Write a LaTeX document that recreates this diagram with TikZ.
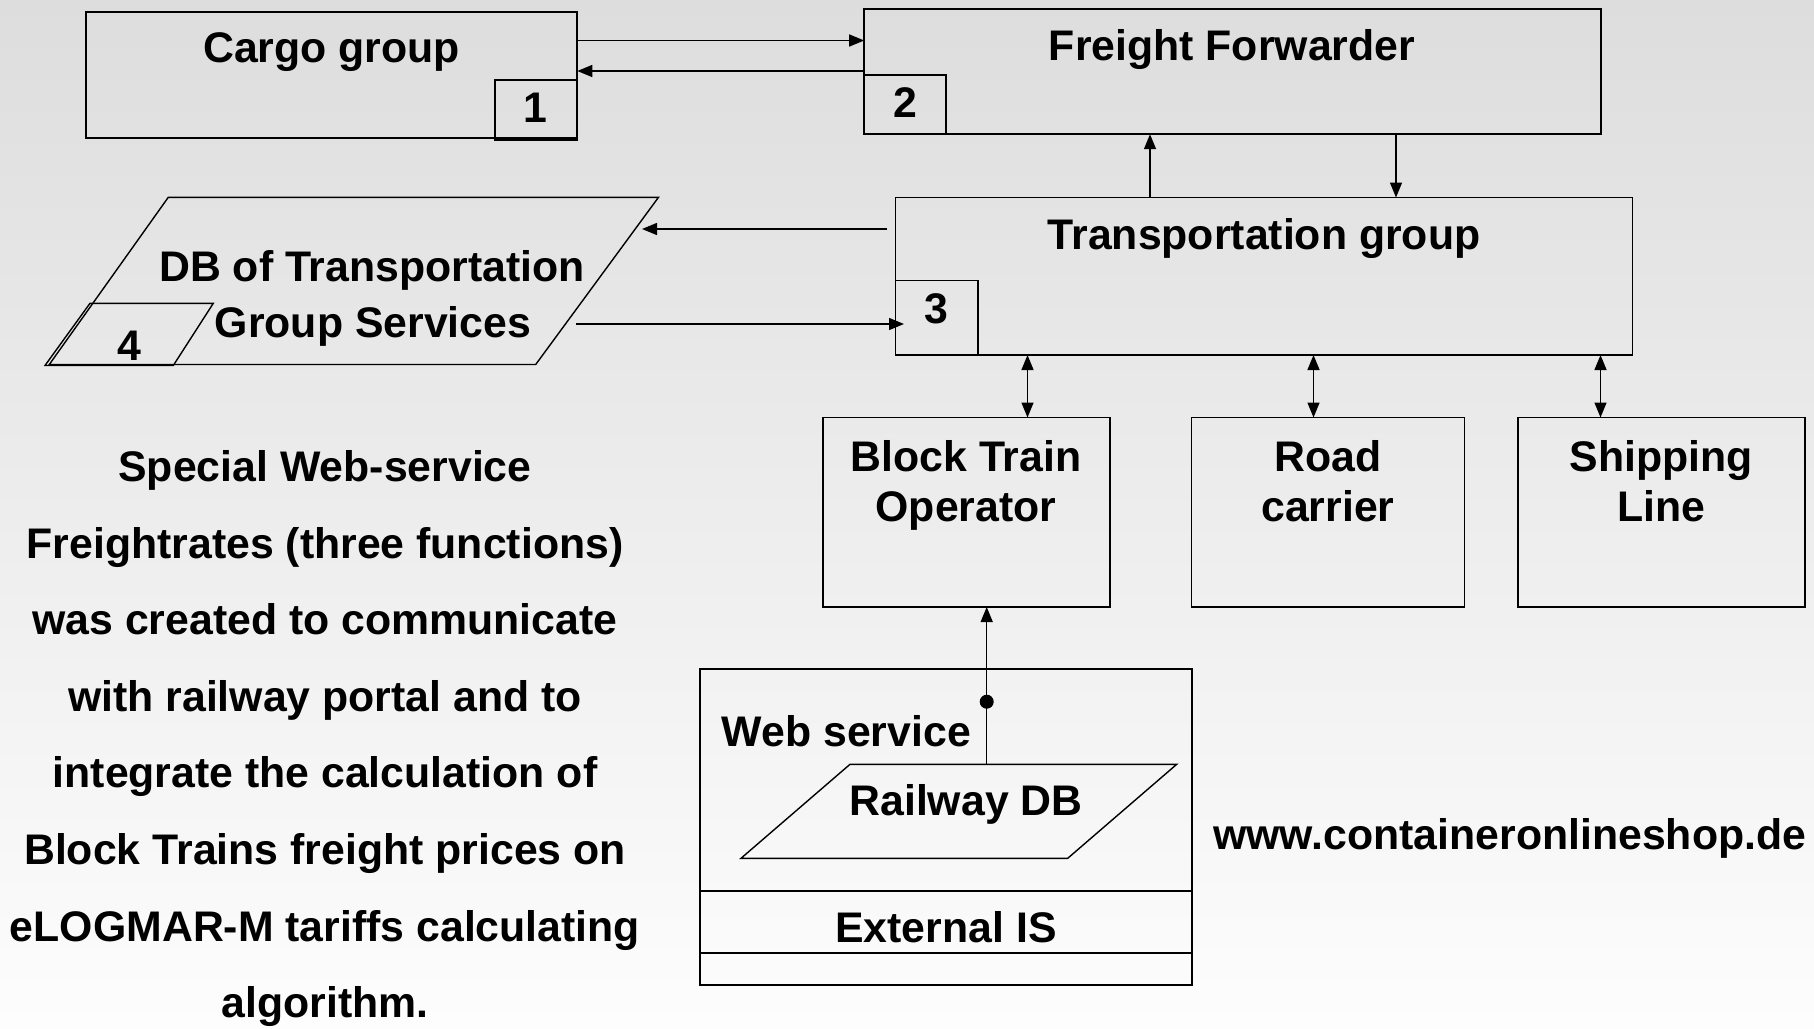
\documentclass[tikz,border=0pt]{standalone}
\usepackage{fontspec}
\setmainfont{Liberation Sans}
\usetikzlibrary{arrows.meta}
\begin{document}
\begin{tikzpicture}[x=1pt,y=-1pt,
  boxst/.style={draw=black, line width=1.8pt, inner sep=0pt, outer sep=0pt, anchor=north west},
  txt/.style={font=\fontsize{42.8}{50}\selectfont\bfseries, inner sep=0pt, anchor=base},
  conn/.style={line width=1.4pt, -{Triangle[length=15pt,width=12pt]}},
  dconn/.style={line width=1.4pt, {Triangle[length=15pt,width=12pt]}-{Triangle[length=15pt,width=12pt]}},
  para/.style={line width=1.4pt, line join=miter}]
\useasboundingbox (0,0) rectangle (1814,1028);
\shade[top color={rgb,255:red,221;green,221;blue,221}, bottom color={rgb,255:red,253;green,253;blue,253}] (0,0) rectangle (1814,1028);

% boxes
\node[boxst, minimum width=491.7pt, minimum height=126.1pt] (cargo) at (85.6,11.6) {};
\node[boxst, minimum width=81.8pt, minimum height=60pt] (box1) at (495.2,80) {};
\node[boxst, minimum width=737pt, minimum height=124.9pt] (ff) at (864.2,9.3) {};
\node[boxst, minimum width=82.1pt, minimum height=59pt] (box2) at (864.2,75.2) {};
\node[boxst, minimum width=737pt, minimum height=157.5pt] (tg) at (895.5,197.5) {};
\node[boxst, minimum width=82.2pt, minimum height=74.5pt] (box3) at (895.5,280.5) {};
\node[boxst, minimum width=287pt, minimum height=189.5pt] (bto) at (823,417.5) {};
\node[boxst, minimum width=273pt, minimum height=189.5pt] (road) at (1191.5,417.5) {};
\node[boxst, minimum width=287pt, minimum height=189.5pt] (ship) at (1518,417.5) {};
\node[boxst, minimum width=491.7pt, minimum height=315.7pt] (web) at (700,669.3) {};
\node[boxst, minimum width=491.7pt, minimum height=62.6pt] (ext) at (700,890.7) {};

% DB parallelogram
\draw[para] (168.3,197.3) -- (658.5,197.3) -- (535.7,364.5) -- (49.3,364.5) -- cycle;
\draw[para] (90,303.3) -- (213.3,303.3) -- (173.3,365.5) -- (45,365.5) -- cycle;
% Railway DB parallelogram
\draw[para] (850,764.3) -- (1176.7,764.3) -- (1067.7,858.3) -- (741,858.3) -- cycle;

% named coordinates for free ends
\coordinate (tgout) at (887.3,229);
\coordinate (dbin) at (642,229);
\coordinate (dbout) at (576,324);
\coordinate (tgin) at (904,324);
\coordinate (rdbtop) at (986.7,764.3);
\coordinate (dot) at (986.7,701.7);

% texts
\node[txt] (tcargo) at (331.5,62.7) {Cargo group};
\node[txt] (t1) at (535,122.7) {1};
\node[txt] (tff) at (1232,60) {Freight Forwarder};
\node[txt] (t2) at (905,117) {2};
\node[txt] (ttg) at (1264,249.3) {Transportation group};
\node[txt] (t3) at (936.5,323.3) {3};
\node[txt] (tdb1) at (372,281) {DB of Transportation};
\node[txt] (tdb2) at (373,337) {Group Services};
\node[txt] (t4) at (129.5,360) {4};
\node[txt] (tbto1) at (966,471) {Block Train};
\node[txt] (tbto2) at (966,521.7) {Operator};
\node[txt] (troad1) at (1328,471) {Road};
\node[txt] (troad2) at (1328,521.7) {carrier};
\node[txt] (tship1) at (1661,471) {Shipping};
\node[txt] (tship2) at (1661,521.7) {Line};
\node[txt, anchor=base west] (tweb) at (721.7,746.7) {Web service};
\node[txt] (trdb) at (966,815.7) {Railway DB};
\node[txt] (text) at (946,942.7) {External IS};
\node[txt, anchor=base west] (twww) at (1213,849) {www.containeronlineshop.de};
\foreach \t [count=\i] in {{Special Web-service},{Freightrates (three functions)},{was created to communicate},{with railway portal and to},{integrate the calculation of},{Block Trains freight prices on},{eLOGMAR-M tariffs calculating},{algorithm.}}
  \node[txt] (p\i) at (325,{481.5+76.6*(\i-1)}) {\t};

% connectors
\draw[conn] (cargo.east |- 0,40.5) -- (ff.west |- 0,40.5);
\draw[conn] (ff.west |- 0,71) -- (cargo.east |- 0,71);
\draw[conn] (tg.north -| 1150,0) -- (ff.south -| 1150,0);
\draw[conn] (ff.south -| 1396,0) -- (tg.north -| 1396,0);
\draw[conn] (tgout) -- (dbin);
\draw[conn] (dbout) -- (tgin);
\draw[dconn] (tg.south -| 1027.5,0) -- (bto.north -| 1027.5,0);
\draw[dconn] (tg.south -| 1313.5,0) -- (road.north -| 1313.5,0);
\draw[dconn] (tg.south -| 1600.5,0) -- (ship.north -| 1600.5,0);
\draw[conn] (rdbtop) -- (bto.south -| rdbtop);
\fill (dot) circle (7pt);
\end{tikzpicture}
\end{document}
